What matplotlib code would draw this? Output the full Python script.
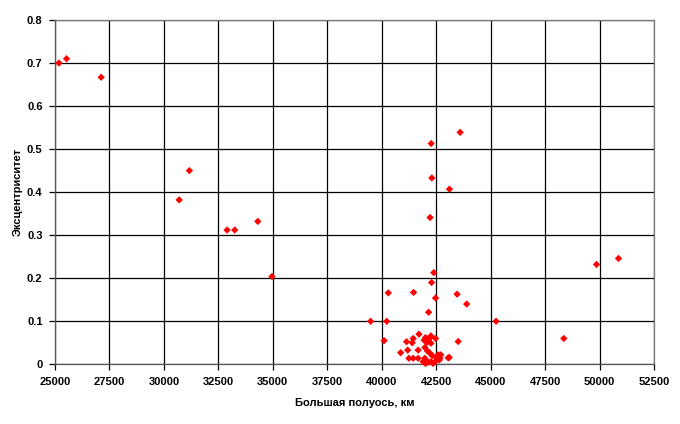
import numpy as np
import matplotlib
matplotlib.use('Agg')
import matplotlib.pyplot as plt
from matplotlib.ticker import FuncFormatter

plt.rcParams['font.family'] = ['Liberation Sans', 'DejaVu Sans']

# большая полуось, км
semi_major = [
    25180, 25530, 27120, 31170, 30700, 32900, 33250, 34310, 34960,
    43600, 42270, 42300, 43110, 42220, 42390, 42290,
    50870, 49860, 45250, 48360,
    40300, 41460, 43460, 42470, 43900, 42150, 39490, 40230, 40110,
    41140, 41445, 41400, 41710, 41950, 42010, 42070, 42160, 42260, 42220,
    42470, 43510, 41190, 41670, 41980, 42100, 42210, 42320, 42590, 42670,
    43050, 41250, 41445, 41670, 41900, 42010, 42130, 42260, 42360, 42520,
    41980, 42520, 42260, 42710, 42640, 43100, 42545, 40870,
]
# эксцентриситет
eccentricity = [
    0.700, 0.710, 0.667, 0.450, 0.382, 0.312, 0.312, 0.332, 0.204,
    0.539, 0.513, 0.433, 0.407, 0.341, 0.213, 0.190,
    0.246, 0.232, 0.100, 0.060,
    0.166, 0.167, 0.163, 0.154, 0.140, 0.121, 0.100, 0.100, 0.055,
    0.0525, 0.060, 0.050, 0.070, 0.056, 0.062, 0.051, 0.054, 0.049, 0.062,
    0.060, 0.053, 0.033, 0.033, 0.039, 0.031, 0.026, 0.020, 0.022, 0.014,
    0.015, 0.014, 0.014, 0.014, 0.006, 0.002, 0.005, 0.006, 0.002, 0.010,
    0.014, 0.018, 0.066, 0.022, 0.010, 0.016, 0.014, 0.027,
]

x_ticks = np.arange(25000, 52501, 2500)
y_ticks = np.arange(0, 0.81, 0.1)

fig = plt.figure(figsize=(6.8, 4.24), dpi=100)
ax = fig.add_axes([55 / 680, 1 - 364.3 / 424, (654 - 55) / 680, (364.3 - 20) / 424])

ax.scatter(semi_major, eccentricity, marker='D', s=14, color='#ff0000',
           edgecolors='none', zorder=3, clip_on=False)

ax.set_xlim(25000, 52500)
ax.set_ylim(0, 0.8)
ax.set_xticks(x_ticks)
ax.set_yticks(y_ticks)
ax.yaxis.set_major_formatter(FuncFormatter(lambda v, p: '0' if abs(v) < 1e-9 else '%.1f' % v))
ax.grid(True, color='black', linewidth=0.9)
ax.set_axisbelow(True)

for side in ['top', 'right']:
    ax.spines[side].set_color('#777777')
    ax.spines[side].set_linewidth(0.9)
for side in ['left', 'bottom']:
    ax.spines[side].set_color('#555555')
    ax.spines[side].set_linewidth(0.9)

ax.tick_params(direction='out', length=4, width=0.9, color='black',
               labelsize=8, pad=5)
for lbl in ax.get_xticklabels() + ax.get_yticklabels():
    lbl.set_fontweight('bold')

ax.set_xlabel('Большая полуось, км', fontsize=8, fontweight='bold')
ax.set_ylabel('Эксцентриситет', fontsize=8, fontweight='bold')
w_px = 654 - 55
h_px = 364.3 - 20
ax.xaxis.set_label_coords(0.5, -(403 - 364.3) / h_px)
ax.yaxis.set_label_coords(-(55 - 18) / w_px, 0.5)
ax.xaxis.label.set_va('center')
ax.yaxis.label.set_va('center')

fig.savefig('out.png', dpi=100)
